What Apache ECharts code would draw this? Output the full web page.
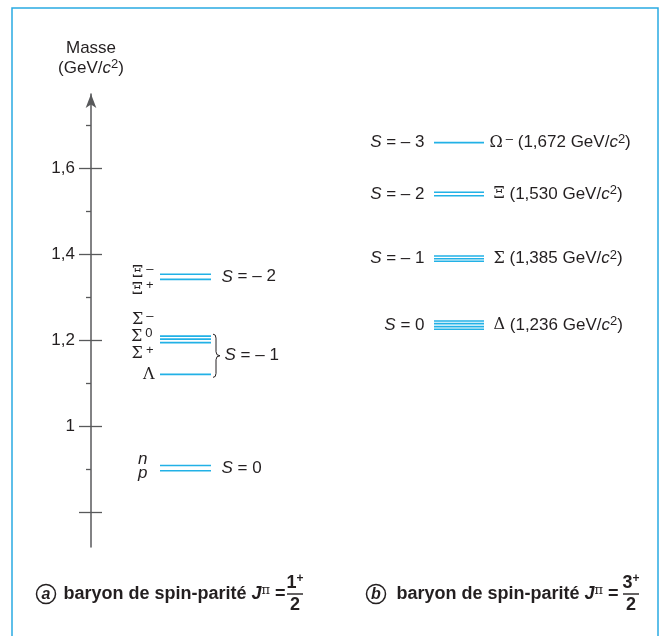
<!DOCTYPE html>
<html><head><meta charset="utf-8">
<script src="https://cdn.jsdelivr.net/npm/echarts@6/dist/echarts.min.js"></script>
<style>html,body{margin:0;padding:0;background:#fff}#c{width:662px;height:636px}</style>
</head><body><div id="c"></div>
<script>
// ---------------- data ----------------
const massTicks = [0.8, 1.0, 1.2, 1.4, 1.6];
const massTickLabels = [1.0, 1.2, 1.4, 1.6];
const massMinorTicks = [0.9, 1.1, 1.3, 1.5, 1.7];

// octet (spin 1/2)
const octetSymbols = ['Ξ', 'Ξ', 'Σ', 'Σ', 'Σ', 'Λ', 'n', 'p'];
const octetCharges = ['–', '+', '–', '0', '+', '', '', ''];
const octetMasses  = [1.353, 1.341, 1.209, 1.202, 1.194, 1.120, 0.908, 0.896];
const octetGroupLabels  = ['S = – 2', 'S = – 1', 'S = 0'];
const octetGroupMembers = [[0, 1], [2, 3, 4, 5], [6, 7]];

// decuplet (spin 3/2)
const decupletSymbols     = ['Ω', 'Ξ', 'Σ', 'Δ'];
const decupletCharges     = ['–', '', '', ''];
const decupletMassText    = ['1,672', '1,530', '1,385', '1,236'];
const decupletStrangeness = ['S = – 3', 'S = – 2', 'S = – 1', 'S = 0'];
const decupletLevels = [
  [1.659],
  [1.5435, 1.5356],
  [1.3953, 1.389, 1.383],
  [1.2442, 1.238, 1.231, 1.225]
];

// ---------------- layout / style ----------------
const Y_MIN = 0.7186, Y_MAX = 1.7721;
const L_X1 = 160, L_X2 = 211;
const R_X1 = 434, R_X2 = 484;
const octetLabelDist = [6, 6, 6, 7, 6, 5, 12, 12];
const octetLabelDy   = [-1, 10, -16, -2, 11, 0, -6, 3];
const LINE_COLOR = '#22b1e6';
const AXIS_COLOR = '#58595b';
const TEXT = '#231f20';
const SANS = 'Liberation Sans';
const SERIF = 'DejaVu Serif';
const FS = 17;

const rich = {
  t:  {fontFamily: SANS, fontSize: FS, color: TEXT, lineHeight: 20},
  i:  {fontFamily: SANS, fontSize: FS, fontStyle: 'italic', color: TEXT, lineHeight: 20},
  g:  {fontFamily: SERIF, fontSize: 16, color: TEXT, lineHeight: 20},
  s:  {fontFamily: SANS, fontSize: 13, color: TEXT, lineHeight: 13, verticalAlign: 'top', padding: [0, 0, 0, 3]},
  s2: {fontFamily: SANS, fontSize: 13, color: TEXT, lineHeight: 13, verticalAlign: 'top'}
};

function mid(arr) { return (Math.max.apply(null, arr) + Math.min.apply(null, arr)) / 2; }
function sLabel(txt) { return '{i|' + txt.charAt(0) + '}{t|' + txt.slice(1) + '}'; }

const series = [];
function level(x1, x2, m) {
  return {type: 'line', data: [[x1, m], [x2, m]], symbol: 'none', silent: true, animation: false,
          lineStyle: {color: LINE_COLOR, width: 1.6}, z: 3};
}
octetMasses.forEach(m => series.push(level(L_X1, L_X2, m)));
decupletLevels.forEach(g => g.forEach(m => series.push(level(R_X1, R_X2, m))));

function lab(pos, dist, txt, dy) {
  return {show: true, position: pos, distance: dist, offset: [0, dy || 0], color: TEXT, opacity: 1,
          formatter: () => txt, rich: rich};
}
const labelItems = [];
octetSymbols.forEach((sym, i) => {
  const latin = /[a-z]/.test(sym);
  const txt = (latin ? '{i|' + sym + '}' : '{g|' + sym + '}') + (octetCharges[i] ? '{s|' + octetCharges[i] + '}' : '');
  labelItems.push({value: [L_X1, octetMasses[i]], label: lab('left', octetLabelDist[i], txt, octetLabelDy[i])});
});
octetGroupLabels.forEach((l, k) => {
  const m = mid(octetGroupMembers[k].map(j => octetMasses[j]));
  labelItems.push({value: [L_X2, m], label: lab('right', k === 1 ? 13 : 10, sLabel(l))});
});
decupletSymbols.forEach((sym, k) => {
  const m = mid(decupletLevels[k]);
  const right = '{g|' + sym + '}' + (decupletCharges[k] ? '{s|' + decupletCharges[k] + '}' : '') +
    '{t| (' + decupletMassText[k] + ' GeV/}{i|c}{s2|2}{t|)}';
  labelItems.push({value: [R_X1, m], label: lab('left', 9, sLabel(decupletStrangeness[k]))});
  labelItems.push({value: [R_X2, m], label: lab('right', k === 0 ? 5 : 9, right)});
});
series.push({type: 'scatter', data: labelItems, symbolSize: 1, silent: true, animation: false,
  itemStyle: {color: 'rgba(0,0,0,0)', opacity: 1}, z: 4});

const yBase = {type: 'value', min: Y_MIN, max: Y_MAX, position: 'left', splitLine: {show: false}};

const chart = echarts.init(document.getElementById('c'), null, {renderer: 'canvas', width: 662, height: 636});
chart.setOption({
  animation: false,
  backgroundColor: '#fff',
  textStyle: {fontFamily: SANS},
  grid: {left: 91, right: 0, top: 94, bottom: 89, containLabel: false, outerBoundsMode: 'none'},
  xAxis: {type: 'value', min: 91, max: 662, show: false},
  yAxis: [
    Object.assign({}, yBase, {
      axisLine: {show: true, lineStyle: {color: AXIS_COLOR, width: 1.5}, symbol: ['none', 'arrow'], symbolSize: [8, 14]},
      axisTick: {show: true, customValues: massTicks, length: 12, lineStyle: {color: AXIS_COLOR, width: 1.3}},
      axisLabel: {show: true, customValues: massTickLabels, margin: 16, color: TEXT, fontSize: FS, fontFamily: SANS,
                  formatter: v => String(Math.round(v * 10) / 10).replace('.', ',')},
      name: '{t|Masse}\n{t|(GeV/}{i|c}{s2|2}{t|)}',
      nameLocation: 'end', nameGap: 16,
      nameTextStyle: {align: 'center', verticalAlign: 'bottom', rich: rich}
    }),
    Object.assign({}, yBase, {
      axisLine: {show: false},
      axisTick: {show: true, inside: true, customValues: massTicks, length: 11, lineStyle: {color: AXIS_COLOR, width: 1.3}},
      axisLabel: {show: false}
    }),
    Object.assign({}, yBase, {
      axisLine: {show: false},
      axisTick: {show: true, customValues: massMinorTicks, length: 5, lineStyle: {color: AXIS_COLOR, width: 1.3}},
      axisLabel: {show: false}
    })
  ],
  series: series
});

// brace for S = -1 group (from top Σ level to Λ level)
const grp = octetGroupMembers[1].map(j => octetMasses[j]);
const pTop = chart.convertToPixel({seriesIndex: 0}, [L_X2, Math.max.apply(null, grp)]);
const pBot = chart.convertToPixel({seriesIndex: 0}, [L_X2, Math.min.apply(null, grp)]);
const bx = pTop[0] + 2, ty = pTop[1] - 2, by = pBot[1] + 3, my = (ty + by) / 2, vx = bx + 3;
const braceStyle = {fill: 'none', stroke: TEXT, lineWidth: 1};
const brace = [
  {type: 'bezierCurve', shape: {x1: bx, y1: ty, cpx1: vx, cpy1: ty, x2: vx, y2: ty + 4}, style: braceStyle},
  {type: 'line', shape: {x1: vx, y1: ty + 4, x2: vx, y2: my - 4}, style: braceStyle},
  {type: 'bezierCurve', shape: {x1: vx, y1: my - 4, cpx1: vx, cpy1: my, x2: vx + 4, y2: my}, style: braceStyle},
  {type: 'bezierCurve', shape: {x1: vx + 4, y1: my, cpx1: vx, cpy1: my, x2: vx, y2: my + 4}, style: braceStyle},
  {type: 'line', shape: {x1: vx, y1: my + 4, x2: vx, y2: by - 4}, style: braceStyle},
  {type: 'bezierCurve', shape: {x1: vx, y1: by - 4, cpx1: vx, cpy1: by, x2: bx, y2: by}, style: braceStyle}
];

const CFS = 18;
const capRich = {
  b: {fontFamily: SANS, fontSize: CFS, fontWeight: 'bold', fill: TEXT, lineHeight: 20},
  j: {fontFamily: SANS, fontSize: CFS, fontWeight: 'bold', fontStyle: 'italic', fill: TEXT, lineHeight: 20},
  p: {fontFamily: SERIF, fontSize: 13, fill: TEXT, lineHeight: 13, verticalAlign: 'top'},
  n: {fontFamily: SANS, fontSize: CFS, fontWeight: 'bold', fill: TEXT, lineHeight: 20},
  s: {fontFamily: SANS, fontSize: 12, fontWeight: 'bold', fill: TEXT, lineHeight: 13, verticalAlign: 'top'}
};
function caption(cx, letter, endX, fracX, num) {
  return [
    {type: 'circle', shape: {cx: cx, cy: 594, r: 9.5}, style: {fill: 'none', stroke: TEXT, lineWidth: 1.5}},
    {type: 'text', x: cx, y: 594.5, style: {text: letter, font: 'italic bold 16px ' + SANS, fill: TEXT, align: 'center', verticalAlign: 'middle'}},
    {type: 'text', x: endX, y: 594, style: {text: '{b|baryon de spin-parité }{j|J}{p|π}{b| =}', rich: capRich, align: 'right', verticalAlign: 'middle'}},
    {type: 'text', x: fracX, y: 583, style: {text: '{n|' + num + '}{s|+}', rich: capRich, align: 'center', verticalAlign: 'middle'}},
    {type: 'line', shape: {x1: fracX - 8, y1: 594, x2: fracX + 8, y2: 594}, style: {stroke: TEXT, lineWidth: 1.4}},
    {type: 'text', x: fracX, y: 605, style: {text: '2', font: 'bold ' + CFS + 'px ' + SANS, fill: TEXT, align: 'center', verticalAlign: 'middle'}}
  ];
}

chart.setOption({
  graphic: [
    {type: 'rect', shape: {x: 12, y: 8, width: 646, height: 640}, style: {fill: 'none', stroke: '#2aaae2', lineWidth: 1.5}, silent: true}
  ].concat(brace, caption(46, 'a', 285.5, 295, '1'), caption(376, 'b', 618.5, 631, '3'))
});
</script>
</body></html>
